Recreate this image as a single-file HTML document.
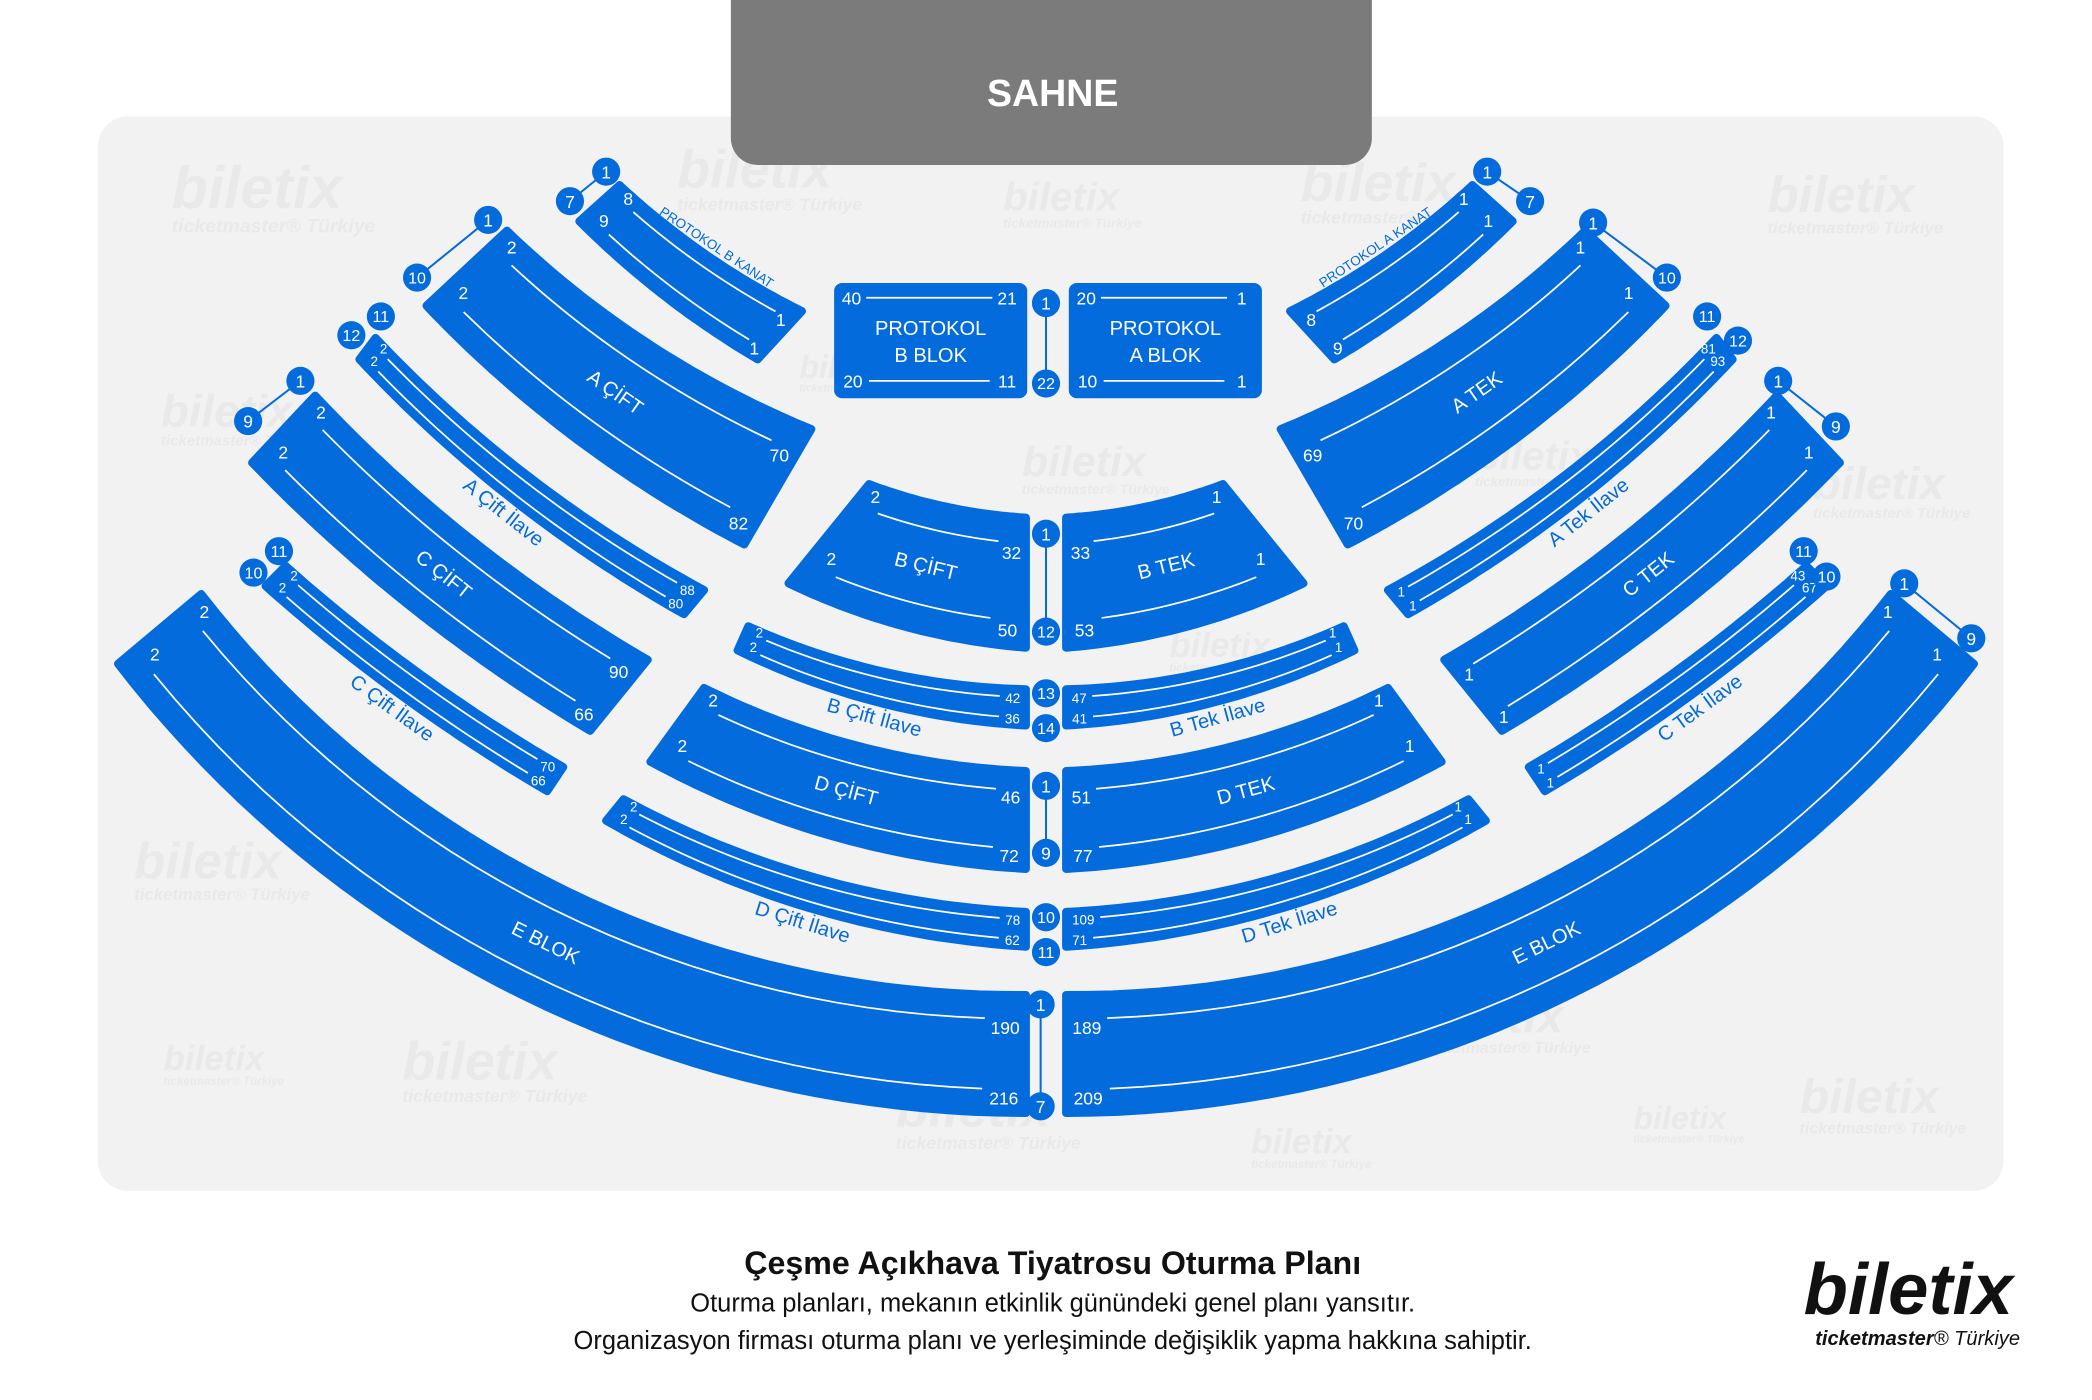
<!DOCTYPE html>
<html><head><meta charset="utf-8">
<style>
html,body{margin:0;padding:0;background:#fff;}
svg{display:block;}
text{font-family:"Liberation Sans","DejaVu Sans",sans-serif;}
</style></head>
<body>
<svg id="s" width="2092" height="1400" viewBox="0 0 1560 1044" xmlns="http://www.w3.org/2000/svg">
<rect x="73" y="87" width="1421" height="801" rx="22" fill="#f2f2f2"/>
<g id="wm" fill="#e9e9e9" font-style="italic" font-weight="bold"></g>
<rect x="545" y="-30" width="478" height="153" rx="20" fill="#7b7b7b"/>
<text x="785" y="79" fill="#fff" font-size="28" font-weight="bold" text-anchor="middle">SAHNE</text>
<g id="blocks"></g>
<g id="marks"></g>
<text x="785" y="950" font-size="24" font-weight="bold" text-anchor="middle" fill="#111">Çeşme Açıkhava Tiyatrosu Oturma Planı</text>
<text x="785" y="978" font-size="19" text-anchor="middle" fill="#111">Oturma planları, mekanın etkinlik günündeki genel planı yansıtır.</text>
<text x="785" y="1006" font-size="19" text-anchor="middle" fill="#111">Organizasyon firması oturma planı ve yerleşiminde değişiklik yapma hakkına sahiptir.</text>
<text x="1423" y="980" font-size="54" font-weight="bold" font-style="italic" text-anchor="middle" fill="#111">biletix</text>
<text x="1430" y="1003" font-size="15" font-style="italic" text-anchor="middle" fill="#111"><tspan font-weight="bold">ticketmaster</tspan>® Türkiye</text>
</svg>
<script>
var NS="http://www.w3.org/2000/svg";
var CX=780,CY=-20,BLUE="#046bdc";
function el(t,a,p,txt){var e=document.createElementNS(NS,t);for(var k in a)e.setAttribute(k,a[k]);if(txt!=null)e.textContent=txt;(p||document.getElementById('blocks')).appendChild(e);return e;}
var wm=document.getElementById('wm');
[[128,155,44],[505,140,40],[748,157,30],[970,150,40],[1318,158,38],[120,318,34],[762,355,32],[1352,372,34],[100,655,38],[300,805,40],[122,798,26],[1062,770,36],[1218,842,24],[1342,830,36],[668,840,40],[933,860,26],[872,490,26],[596,282,24],[1100,350,30]].forEach(function(w){
 el('text',{x:w[0],y:w[1],'font-size':w[2]},wm,'biletix');
 el('text',{x:w[0],y:w[1]+w[2]*0.42,'font-size':w[2]*0.33},wm,'ticketmaster® Türkiye');
});
function P(p){return {r:Math.hypot(p[0]-CX,p[1]-CY),a:Math.atan2(p[0]-CX,p[1]-CY)};}
function pt(r,a){return [CX+r*Math.sin(a),CY+r*Math.cos(a)];}
var defs=[
 {n:'PROTOKOL B KANAT',is:[462,138],os:[432,165],ie:[598,232],oe:[565,268],s:['8','9'],e:['1','1'],out:-1,fs:10,k:0.55},
 {n:'A ÇİFT',is:[378,172],os:[318,228],ie:[605,320],oe:[555,406],s:['2','2'],e:['70','82'],out:0,k:0.55},
 {n:'A Çift İlave',is:[280,252],os:[268,268],ie:[525,440],oe:[510,458],s:['2','2'],e:['88','80'],out:1,thin:1,k:0.55},
 {n:'C ÇİFT',is:[235,295],os:[188,345],ie:[483,492],oe:[440,545],s:['2','2'],e:['90','66'],out:0,k:0.55},
 {n:'C Çift İlave',is:[213,422],os:[198,437],ie:[420,572],oe:[408,590],s:['2','2'],e:['70','66'],out:1,thin:1,k:0.55},
 {n:'E BLOK',is:[150,443],os:[88,495],ie:[765,742],oe:[765,830],s:['2','2'],e:['190','216'],out:0,k:1},
 {n:'B ÇİFT',is:[648,361],os:[588,435],ie:[765,386],oe:[765,483],s:['2','2'],e:['32','50'],out:0,k:1},
 {n:'B Çift İlave',is:[558,467],os:[550,485],ie:[765,514],oe:[765,541],s:['2','2'],e:['42','36'],out:1,thin:1,k:1},
 {n:'D ÇİFT',is:[525,513],os:[485,568],ie:[765,575],oe:[765,648],s:['2','2'],e:['46','72'],out:0,k:1},
 {n:'D Çift İlave',is:[465,596],os:[452,612],ie:[765,680],oe:[765,706],s:['2','2'],e:['78','62'],out:1,thin:1,k:1}
];
var right={'PROTOKOL B KANAT':['PROTOKOL A KANAT',['1','1'],['8','9']],'A ÇİFT':['A TEK',['1','1'],['69','70']],
 'A Çift İlave':['A Tek İlave',['81','93'],['1','1']],'C ÇİFT':['C TEK',['1','1'],['1','1']],
 'C Çift İlave':['C Tek İlave',['43','67'],['1','1']],'E BLOK':['E BLOK',['1','1'],['189','209']],
 'B ÇİFT':['B TEK',['1','1'],['33','53']],'B Çift İlave':['B Tek İlave',['1','1'],['47','41']],
 'D ÇİFT':['D TEK',['1','1'],['51','77']],'D Çift İlave':['D Tek İlave',['1','1'],['109','71']]};
function mir(p){return [1560-p[0],p[1]];}
var all=[];
defs.forEach(function(d){all.push(d);var r=right[d.n];
 all.push({n:r[0],is:mir(d.is),os:mir(d.os),ie:mir(d.ie),oe:mir(d.oe),s:r[1],e:r[2],out:d.out,thin:d.thin,fs:d.fs,k:d.k});});
all.forEach(function(d){
 var I1=P(d.is),I2=P(d.ie),O1=P(d.os),O2=P(d.oe),K=d.k;
 function at(t,f){var ri=I1.r+(I2.r-I1.r)*t,ai=I1.a+(I2.a-I1.a)*t,ro=O1.r+(O2.r-O1.r)*t,ao=O1.a+(O2.a-O1.a)*t;
  var pp=pt(ri+(ro-ri)*f,ai+(ao-ai)*f);
  if(K<1){
   var ix=d.is[0]+(d.ie[0]-d.is[0])*t,iy=d.is[1]+(d.ie[1]-d.is[1])*t;
   var ox=d.os[0]+(d.oe[0]-d.os[0])*t,oy=d.os[1]+(d.oe[1]-d.os[1])*t;
   var lx=ix+(ox-ix)*f,ly=iy+(oy-iy)*f;
   pp=[pp[0]*K+lx*(1-K),pp[1]*K+ly*(1-K)];
  }
  return pp;}
 var N=40,pts=[];
 for(var i=0;i<=N;i++)pts.push(at(i/N,0));
 for(var i=N;i>=0;i--)pts.push(at(i/N,1));
 el('path',{d:'M'+pts.map(function(p){return p[0].toFixed(1)+','+p[1].toFixed(1);}).join('L')+'Z',fill:BLUE,stroke:BLUE,'stroke-width':6,'stroke-linejoin':'round'});
 var a=at(0,0.5),b=at(1,0.5),L=Math.hypot(b[0]-a[0],b[1]-a[1])*1.02;
 var w=Math.hypot(at(0.5,1)[0]-at(0.5,0)[0],at(0.5,1)[1]-at(0.5,0)[1]);
 var fr=d.thin?[0.22,0.8]:[0.2,0.8];
 var nfs=d.thin?10:13;
 for(var k=0;k<2;k++){
  var f=fr[k];
  var t0=(d.thin?10:12)/L,t1=1-(4+nfs*0.3*d.e[k].length)/L;
  var l0=(d.thin?17:22)/L,l1=1-(8+nfs*0.6*d.e[k].length)/L;
  var lp=[];for(var i=0;i<=30;i++)lp.push(at(l0+(l1-l0)*i/30,f));
  el('polyline',{points:lp.map(function(p){return p.join(',');}).join(' '),fill:'none',stroke:'#fff','stroke-width':1.3});
  var p0=at(t0,f-(d.thin?0.15:0.12)),p1=at(t1,f+(d.thin?0.05:0.08));
  el('text',{x:p0[0],y:p0[1],fill:'#fff','font-size':nfs,'text-anchor':'middle','dominant-baseline':'central'},null,d.s[k]);
  el('text',{x:p1[0],y:p1[1],fill:'#fff','font-size':nfs,'text-anchor':'middle','dominant-baseline':'central'},null,d.e[k]);
 }
 var f=d.out==0?0.5:(d.out>0?1+12/w:-9/w);
 var m=at(0.5,f),m1=at(0.49,f),m2=at(0.51,f);
 var ang=Math.atan2(m2[1]-m1[1],m2[0]-m1[0])*180/Math.PI;
 if(ang>90)ang-=180;if(ang<-90)ang+=180;
 el('text',{x:m[0],y:m[1],fill:d.out==0?'#fff':BLUE,'font-size':d.fs||15,'text-anchor':'middle','dominant-baseline':'central',transform:'rotate('+ang.toFixed(1)+' '+m[0].toFixed(1)+' '+m[1].toFixed(1)+')'},null,d.n);
});
var B=document.getElementById('blocks');
[[622,'PROTOKOL','B BLOK',['40','21','20','11']],[797,'PROTOKOL','A BLOK',['20','1','10','1']]].forEach(function(q){
 var x=q[0];el('rect',{x:x,y:211,width:144,height:86,rx:6,fill:BLUE},B);
 el('text',{x:x+72,y:250,fill:'#fff','font-size':15,'text-anchor':'middle'},B,q[1]);
 el('text',{x:x+72,y:270,fill:'#fff','font-size':15,'text-anchor':'middle'},B,q[2]);
 el('text',{x:x+13,y:227,fill:'#fff','font-size':13,'text-anchor':'middle'},B,q[3][0]);
 el('text',{x:x+129,y:227,fill:'#fff','font-size':13,'text-anchor':'middle'},B,q[3][1]);
 el('text',{x:x+14,y:289,fill:'#fff','font-size':13,'text-anchor':'middle'},B,q[3][2]);
 el('text',{x:x+129,y:289,fill:'#fff','font-size':13,'text-anchor':'middle'},B,q[3][3]);
 el('line',{x1:x+24,y1:222,x2:x+118,y2:222,stroke:'#fff','stroke-width':1.3},B);
 el('line',{x1:x+26,y1:284,x2:x+116,y2:284,stroke:'#fff','stroke-width':1.3},B);
});
var M=document.getElementById('marks');
var pairs=[
 [[452,128,'1'],[425,150,'7'],1],[[364,164,'1'],[311,207,'10'],1],[[284,236,'11'],[262,250,'12'],0],
 [[224,284,'1'],[185,314,'9'],1],[[208,411,'11'],[189,427,'10'],0],
 [[780,226,'1'],[780,286,'22'],1],[[780,398,'1'],[780,471,'12'],1],[[780,517,'13'],[780,543,'14'],0],
 [[780,586,'1'],[780,636,'9'],1],[[780,684,'10'],[780,710,'11'],0],[[776,749,'1'],[776,825,'7'],1],
 [[1109,128,'1'],[1141,150,'7'],1],[[1188,166,'1'],[1243,207,'10'],1],[[1273,236,'11'],[1296,254,'12'],0],
 [[1326,284,'1'],[1369,318,'9'],1],[[1345,411,'11'],[1362,430,'10'],0],[[1420,435,'1'],[1470,476,'9'],1]
];
pairs.forEach(function(p){
 if(p[2])el('line',{x1:p[0][0],y1:p[0][1],x2:p[1][0],y2:p[1][1],stroke:BLUE,'stroke-width':1.5},M);
 [p[0],p[1]].forEach(function(c){
  el('circle',{cx:c[0],cy:c[1],r:10.5,fill:BLUE},M);
  el('text',{x:c[0],y:c[1]+0.5,fill:'#fff','font-size':c[2].length>1?12:13,'text-anchor':'middle','dominant-baseline':'central'},M,c[2]);
 });
});
</script>
</body></html>
